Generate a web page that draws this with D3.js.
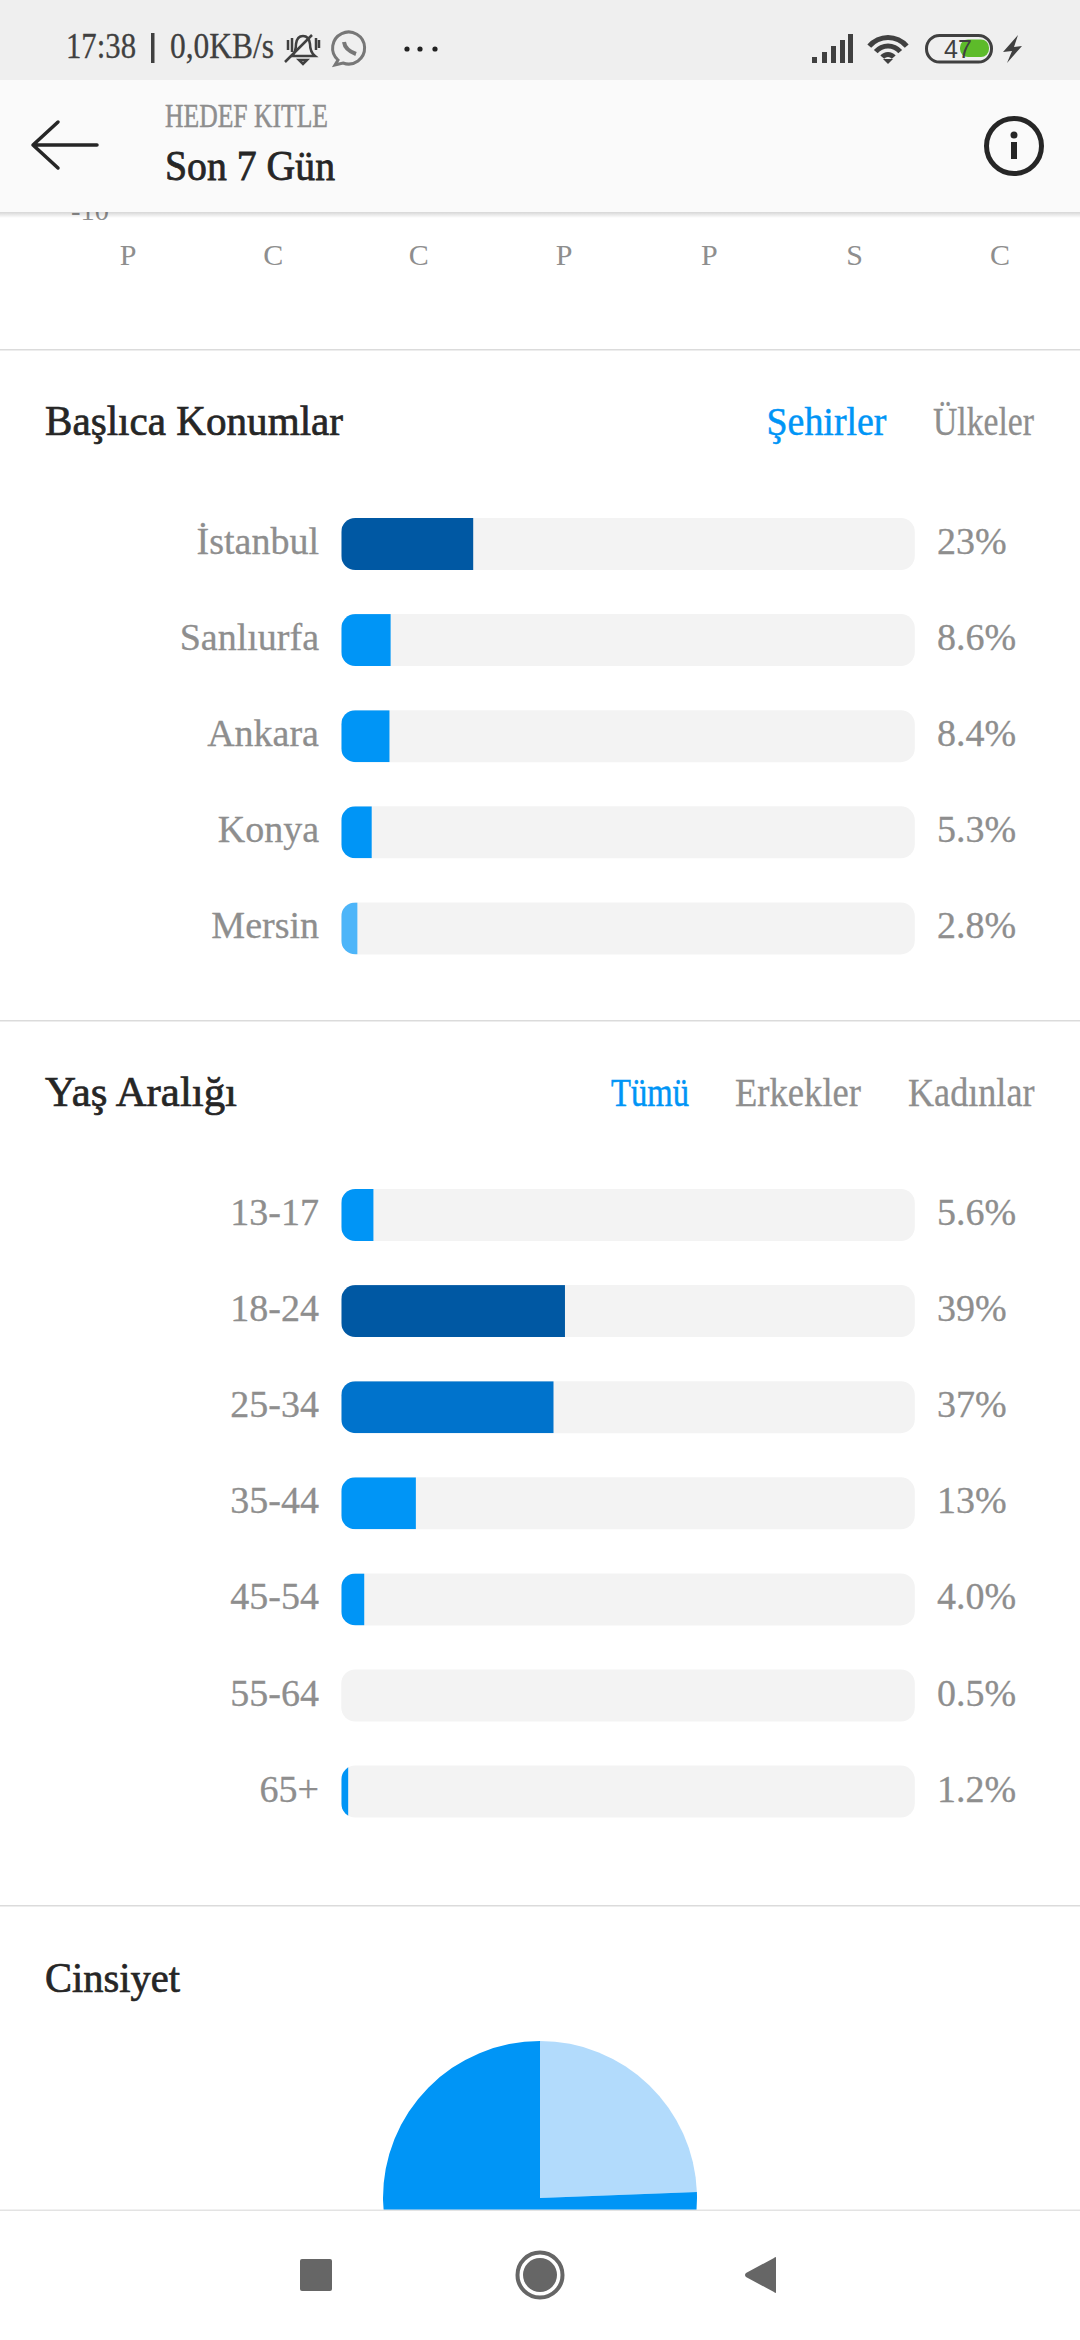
<!DOCTYPE html>
<html>
<head>
<meta charset="utf-8">
<script src="https://cdn.jsdelivr.net/npm/d3@7"></script>
<style>
  html, body { margin: 0; padding: 0; background: #fff; }
  svg { display: block; }
  text { font-family: "Liberation Serif", serif; }
</style>
</head>
<body>
<svg id="chart" width="1080" height="2340"></svg>
<script>
const dayLabels = ["P", "C", "C", "P", "P", "S", "C"];

const cityNames = ["İstanbul", "Sanlıurfa", "Ankara", "Konya", "Mersin"];
const cityValues = [23, 8.6, 8.4, 5.3, 2.8];
const cityTexts = ["23%", "8.6%", "8.4%", "5.3%", "2.8%"];
const cityColors = ["#0058a3", "#0095f6", "#0095f6", "#0095f6", "#4db5f9"];

const ageNames = ["13-17", "18-24", "25-34", "35-44", "45-54", "55-64", "65+"];
const ageValues = [5.6, 39, 37, 13, 4.0, 0.5, 1.2];
const ageTexts = ["5.6%", "39%", "37%", "13%", "4.0%", "0.5%", "1.2%"];
const ageColors = ["#0095f6", "#0058a3", "#0073cc", "#0095f6", "#0095f6", "none", "#0095f6"];

const genderValues = [24.4, 75.6];
const genderColors = ["#b2dbfc", "#0095f6"];

const svg = d3.select("#chart");
const gray = "#8e8e8e";
const dark = "#262626";
const blue = "#0095f6";

const barX = d3.scaleLinear().domain([0, 100]).range([341.3, 914.8]);

function addText(x, y, str, size, color, opts) {
  opts = opts || {};
  const t = svg.append("text")
    .attr("x", x)
    .attr("y", y)
    .attr("font-size", size)
    .attr("fill", color)
    .attr("text-anchor", opts.anchor || "start")
    .text(str);
  if (opts.width) {
    t.attr("textLength", opts.width).attr("lengthAdjust", "spacingAndGlyphs");
  }
  if (opts.stroke) {
    t.attr("stroke", color).attr("stroke-width", opts.stroke);
  }
  return t;
}

function drawDivider(y) {
  svg.append("rect")
    .attr("x", 0)
    .attr("y", y)
    .attr("width", 1080)
    .attr("height", 1.5)
    .attr("fill", "#dbdbdb");
}

function drawBars(id, names, values, texts, colors, top) {
  const h = 52;
  const rowStep = 96.1;
  const y = d3.scaleBand()
    .domain(names)
    .range([top, top + names.length * rowStep - (rowStep - h)])
    .paddingInner((rowStep - h) / rowStep)
    .paddingOuter(0);

  const defs = svg.append("defs");
  names.forEach((d, i) => {
    defs.append("clipPath")
      .attr("id", id + i)
      .append("rect")
      .attr("x", barX(0))
      .attr("y", y(d))
      .attr("width", barX(100) - barX(0))
      .attr("height", y.bandwidth())
      .attr("rx", 14);
  });

  svg.selectAll(".track-" + id)
    .data(names)
    .enter()
    .append("rect")
    .attr("class", "track-" + id)
    .attr("x", barX(0))
    .attr("y", d => y(d))
    .attr("width", barX(100) - barX(0))
    .attr("height", y.bandwidth())
    .attr("rx", 14)
    .attr("fill", "#f3f3f3");

  svg.selectAll(".fill-" + id)
    .data(values)
    .enter()
    .append("rect")
    .attr("class", "fill-" + id)
    .attr("x", barX(0))
    .attr("y", (d, i) => y(names[i]))
    .attr("width", d => barX(d) - barX(0))
    .attr("height", y.bandwidth())
    .attr("clip-path", (d, i) => "url(#" + id + i + ")")
    .attr("fill", (d, i) => colors[i]);

  names.forEach((d, i) => {
    addText(319, y(d) + 36, d, 38, gray, { anchor: "end", stroke: 0.3 });
    addText(937, y(d) + 36, texts[i], 38, gray, { stroke: 0.3 });
  });
}

function drawTopAxis() {
  addText(71, 220, "-10", 28, gray, { width: 38 });

  const x = d3.scalePoint()
    .domain(d3.range(dayLabels.length))
    .range([128, 1000]);

  svg.selectAll(".day")
    .data(dayLabels)
    .enter()
    .append("text")
    .attr("class", "day")
    .attr("x", (d, i) => x(i))
    .attr("y", 265)
    .attr("text-anchor", "middle")
    .attr("font-size", 30)
    .attr("fill", gray)
    .text(d => d);
}

function drawPie() {
  const cx = 540;
  const cy = 2198;
  const pie = d3.pie().sort(null)(genderValues);
  const arc = d3.arc().innerRadius(0).outerRadius(157);

  svg.selectAll(".slice")
    .data(pie)
    .enter()
    .append("path")
    .attr("class", "slice")
    .attr("transform", "translate(" + cx + "," + cy + ")")
    .attr("d", arc)
    .attr("fill", (d, i) => genderColors[i]);
}

function drawStatusBar() {
  svg.append("rect").attr("width", 1080).attr("height", 80).attr("fill", "#efefef");

  const ink = "#404040";
  addText(66, 58, "17:38", 35, ink, { width: 70, stroke: 0.3 });
  svg.append("rect").attr("x", 151).attr("y", 33).attr("width", 3.5).attr("height", 30).attr("fill", ink);
  addText(170, 58, "0,0KB/s", 35, ink, { width: 104, stroke: 0.3 });

  // muted bell
  svg.append("path")
    .attr("d", "M292 56 Q296 52 296 44 Q297 36 303 36 Q309 36 310 44 Q310 52 315 56 Z M299 60 H307 L303 64 Z")
    .attr("fill", "none")
    .attr("stroke", ink)
    .attr("stroke-width", 2.5);
  svg.append("path")
    .attr("d", "M285 62 L312 35 M288 40 V50 M292 38 V52 M316 38 V50 M319 40 V48")
    .attr("stroke", ink)
    .attr("stroke-width", 2.5);

  // whatsapp
  svg.append("path")
    .attr("d", "M338 60 A16 16 0 1 1 343 63 L335 65 Z")
    .attr("fill", "none")
    .attr("stroke", "#777")
    .attr("stroke-width", 3);
  svg.append("path")
    .attr("d", "M344 42 Q345 50 356 54")
    .attr("fill", "none")
    .attr("stroke", "#777")
    .attr("stroke-width", 4);

  [407, 420, 435].forEach(x => {
    svg.append("circle").attr("cx", x).attr("cy", 49).attr("r", 2.6).attr("fill", "#222");
  });

  // signal
  [[812, 57], [822, 52], [831, 46], [840, 40], [848, 34]].forEach(b => {
    svg.append("rect")
      .attr("x", b[0])
      .attr("y", b[1])
      .attr("width", 5)
      .attr("height", 63 - b[1])
      .attr("fill", ink);
  });

  // wifi
  const wifiAngle = 0.87;
  [27, 18.5, 10].forEach(r => {
    svg.append("path")
      .attr("transform", "translate(888,62)")
      .attr("d", d3.arc()({
        innerRadius: r - 5,
        outerRadius: r,
        startAngle: -wifiAngle,
        endAngle: wifiAngle
      }))
      .attr("fill", ink);
  });
  svg.append("path").attr("d", "M883 59 H893 L888 64 Z").attr("fill", ink);

  // battery
  svg.append("rect")
    .attr("x", 960).attr("y", 39.5).attr("width", 29).attr("height", 17.5).attr("rx", 8)
    .attr("fill", "#5dbb2a");
  svg.append("rect")
    .attr("x", 926.5).attr("y", 35.5).attr("width", 65).attr("height", 26.5).attr("rx", 13)
    .attr("fill", "none").attr("stroke", ink).attr("stroke-width", 3);
  svg.append("text")
    .attr("x", 958).attr("y", 57.5)
    .attr("text-anchor", "middle")
    .attr("font-size", 25)
    .attr("fill", ink)
    .style("font-family", "Liberation Sans")
    .text("47");
  svg.append("path")
    .attr("d", "M1018 35 L1003 52 L1012 51 L1007 63 L1022 46 L1014 47 Z")
    .attr("fill", ink);
}

function drawHeader() {
  const shadow = svg.append("defs")
    .append("linearGradient")
    .attr("id", "headerShadow")
    .attr("x1", 0).attr("x2", 0).attr("y1", 0).attr("y2", 1);
  shadow.append("stop").attr("offset", 0).attr("stop-color", "#000").attr("stop-opacity", 0.16);
  shadow.append("stop").attr("offset", 1).attr("stop-color", "#000").attr("stop-opacity", 0);

  svg.append("rect").attr("y", 212).attr("width", 1080).attr("height", 6).attr("fill", "url(#headerShadow)");
  svg.append("rect").attr("y", 80).attr("width", 1080).attr("height", 132).attr("fill", "#fafafa");

  addText(165, 126.5, "HEDEF KITLE", 33, gray, { width: 163, stroke: 0.5 });
  addText(165, 180, "Son 7 Gün", 43, dark, { width: 170, stroke: 0.8 });

  svg.append("path")
    .attr("d", "M58 122 L33 145 L58 168 M33 145 H97")
    .attr("fill", "none")
    .attr("stroke", dark)
    .attr("stroke-width", 3.5)
    .attr("stroke-linecap", "round")
    .attr("stroke-linejoin", "round");

  svg.append("circle")
    .attr("cx", 1014).attr("cy", 146).attr("r", 27.5)
    .attr("fill", "none").attr("stroke", dark).attr("stroke-width", 5);
  svg.append("circle").attr("cx", 1014).attr("cy", 135).attr("r", 3.5).attr("fill", dark);
  svg.append("rect").attr("x", 1011).attr("y", 142).attr("width", 6).attr("height", 17).attr("fill", dark);
}

function drawNav() {
  svg.append("rect").attr("y", 2210).attr("width", 1080).attr("height", 130).attr("fill", "#fff");
  svg.append("rect").attr("y", 2209.5).attr("width", 1080).attr("height", 1.5).attr("fill", "#e3e3e3");

  const ink = "#666";
  svg.append("rect")
    .attr("x", 300).attr("y", 2259).attr("width", 32).attr("height", 32).attr("rx", 2)
    .attr("fill", ink);
  svg.append("circle")
    .attr("cx", 540).attr("cy", 2275).attr("r", 22.5)
    .attr("fill", "none").attr("stroke", ink).attr("stroke-width", 4);
  svg.append("circle").attr("cx", 540).attr("cy", 2275).attr("r", 17).attr("fill", ink);
  svg.append("path")
    .attr("d", "M776 2258 V2292 Q776 2294 774 2292 L746 2277 Q744 2275 746 2273 L774 2258 Q776 2256 776 2258 Z")
    .attr("fill", ink);
}

svg.append("rect").attr("width", 1080).attr("height", 2340).attr("fill", "#fff");

drawTopAxis();
drawDivider(349);

addText(45, 435, "Başlıca Konumlar", 42, dark, { width: 298, stroke: 0.7 });
addText(766.5, 435, "Şehirler", 39, blue, { width: 120, stroke: 0.5 });
addText(933, 435, "Ülkeler", 39, gray, { width: 101, stroke: 0.3 });
drawBars("city", cityNames, cityValues, cityTexts, cityColors, 518);
drawDivider(1020);

addText(45, 1106, "Yaş Aralığı", 42, dark, { width: 192, stroke: 0.7 });
addText(611, 1106, "Tümü", 39, blue, { width: 78, stroke: 0.5 });
addText(735, 1106, "Erkekler", 39, gray, { width: 126, stroke: 0.3 });
addText(908, 1106, "Kadınlar", 39, gray, { width: 126.5, stroke: 0.3 });
drawBars("age", ageNames, ageValues, ageTexts, ageColors, 1189);
drawDivider(1905);

addText(45, 1992, "Cinsiyet", 42, dark, { width: 135, stroke: 0.7 });
drawPie();

drawNav();
drawHeader();
drawStatusBar();
</script>
</body>
</html>
